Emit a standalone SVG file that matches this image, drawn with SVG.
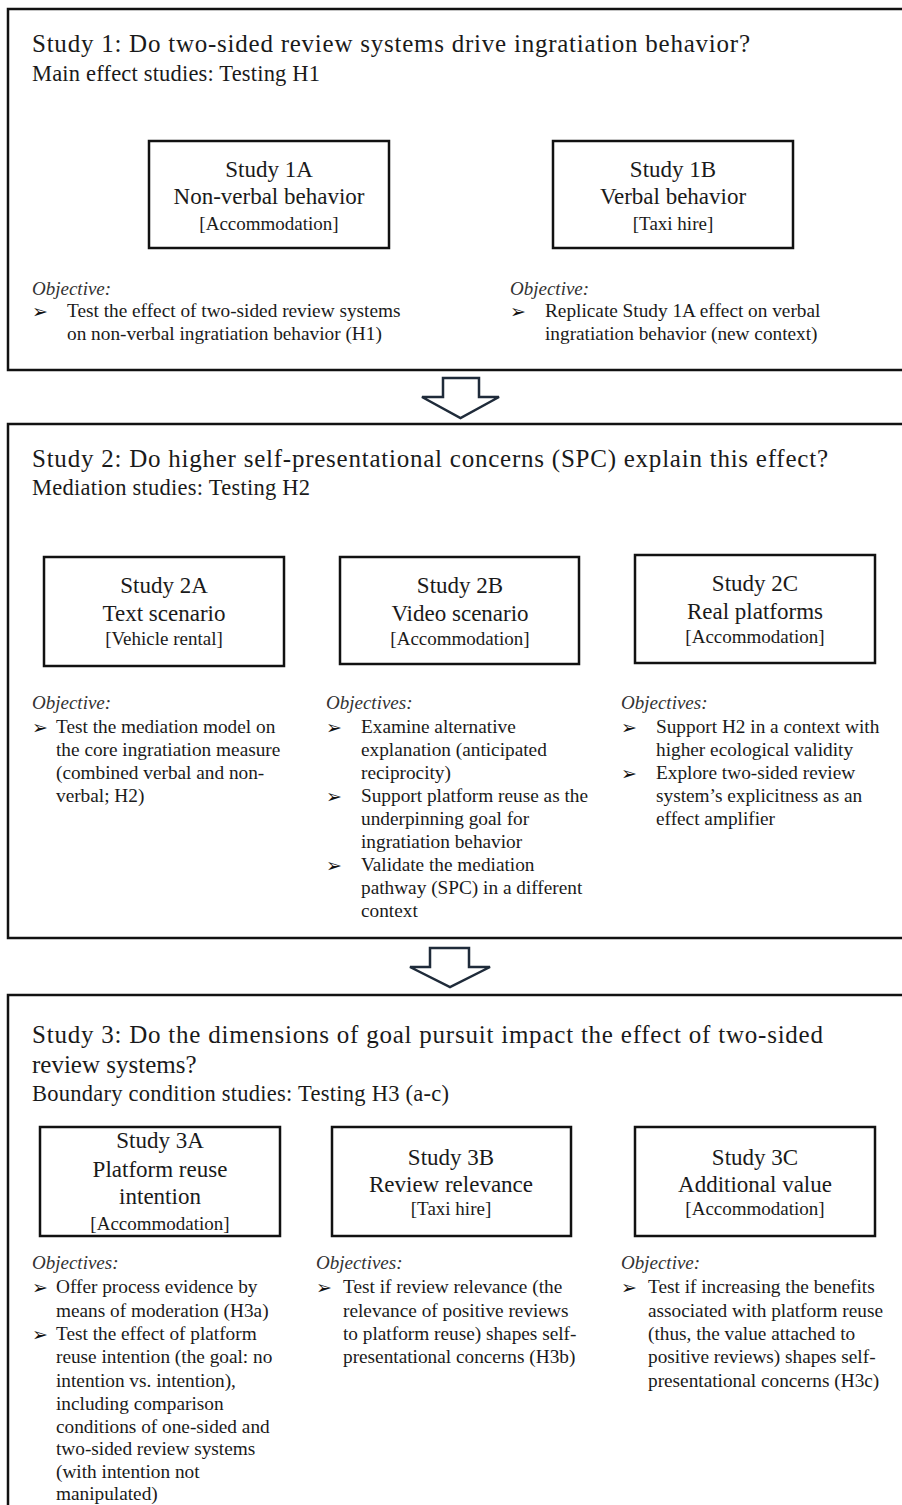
<svg xmlns="http://www.w3.org/2000/svg" width="902" height="1505" viewBox="0 0 902 1505">
<style>
text{font-family:"Liberation Serif","Times New Roman",serif;fill:#1a1a1a}
.frame{fill:none;stroke:#111;stroke-width:2.5}
.box{fill:#fff;stroke:#111;stroke-width:2.5}
.title{font-size:25px}
.sub{font-size:22.5px}
.bt{font-size:23px;text-anchor:middle}
.bs{font-size:19px;text-anchor:middle}
.obj{font-size:19px;font-style:italic;fill:#333}
.t{font-size:19.3px}
.bul{font-family:"DejaVu Sans",sans-serif;font-size:19px;fill:#111}
.arrow{fill:#fff;stroke:#1f2b3a;stroke-width:2.5;stroke-linejoin:miter}
</style>
<rect width="902" height="1505" fill="#fff"/>

<g id="study1">
<rect class="frame" x="8" y="9" width="900" height="361"/>
<text class="title" x="32" y="52" textLength="718" lengthAdjust="spacing">Study 1: Do two-sided review systems drive ingratiation behavior?</text>
<text class="sub" x="32" y="81" textLength="288" lengthAdjust="spacing">Main effect studies: Testing H1</text>
</g>
<g id="study1A">
<rect class="box" x="149" y="141" width="240" height="107"/>
<text class="bt" x="269" y="177">Study 1A</text>
<text class="bt" x="269" y="204">Non-verbal behavior</text>
<text class="bs" x="269" y="230">[Accommodation]</text>
</g>
<g id="study1B">
<rect class="box" x="553" y="141" width="240" height="107"/>
<text class="bt" x="673" y="177">Study 1B</text>
<text class="bt" x="673" y="204">Verbal behavior</text>
<text class="bs" x="673" y="230">[Taxi hire]</text>
</g>
<g id="obj1A">
<text class="obj" x="32" y="295">Objective:</text>
<text class="bul" x="32" y="318">➢</text>
<text class="t" x="67" y="317">Test the effect of two-sided review systems</text>
<text class="t" x="67" y="340">on non-verbal ingratiation behavior (H1)</text>
</g>
<g id="obj1B">
<text class="obj" x="510" y="295">Objective:</text>
<text class="bul" x="510" y="318">➢</text>
<text class="t" x="545" y="317">Replicate Study 1A effect on verbal</text>
<text class="t" x="545" y="340">ingratiation behavior (new context)</text>
</g>

<g id="study2">
<rect class="frame" x="8" y="424" width="900" height="514"/>
<text class="title" x="32" y="467" textLength="796" lengthAdjust="spacing">Study 2: Do higher self-presentational concerns (SPC) explain this effect?</text>
<text class="sub" x="32" y="495" textLength="278" lengthAdjust="spacing">Mediation studies: Testing H2</text>
</g>
<g id="study2A">
<rect class="box" x="44" y="557" width="240" height="109"/>
<text class="bt" x="164" y="593">Study 2A</text>
<text class="bt" x="164" y="621">Text scenario</text>
<text class="bs" x="164" y="645">[Vehicle rental]</text>
</g>
<g id="study2B">
<rect class="box" x="340" y="557" width="239" height="107"/>
<text class="bt" x="460" y="593">Study 2B</text>
<text class="bt" x="460" y="621">Video scenario</text>
<text class="bs" x="460" y="645">[Accommodation]</text>
</g>
<g id="study2C">
<rect class="box" x="635" y="555" width="240" height="108"/>
<text class="bt" x="755" y="591">Study 2C</text>
<text class="bt" x="755" y="619">Real platforms</text>
<text class="bs" x="755" y="643">[Accommodation]</text>
</g>
<g id="obj2A">
<text class="obj" x="32" y="709">Objective:</text>
<text class="bul" x="32" y="734">➢</text>
<text class="t" x="56" y="733">Test the mediation model on</text>
<text class="t" x="56" y="756">the core ingratiation measure</text>
<text class="t" x="56" y="779">(combined verbal and non-</text>
<text class="t" x="56" y="802">verbal; H2)</text>
</g>
<g id="obj2B">
<text class="obj" x="326" y="709">Objectives:</text>
<text class="bul" x="326" y="734">➢</text>
<text class="t" x="361" y="733">Examine alternative</text>
<text class="t" x="361" y="756">explanation (anticipated</text>
<text class="t" x="361" y="779">reciprocity)</text>
<text class="bul" x="326" y="803">➢</text>
<text class="t" x="361" y="802">Support platform reuse as the</text>
<text class="t" x="361" y="825">underpinning goal for</text>
<text class="t" x="361" y="848">ingratiation behavior</text>
<text class="bul" x="326" y="872">➢</text>
<text class="t" x="361" y="871">Validate the mediation</text>
<text class="t" x="361" y="894">pathway (SPC) in a different</text>
<text class="t" x="361" y="917">context</text>
</g>
<g id="obj2C">
<text class="obj" x="621" y="709">Objectives:</text>
<text class="bul" x="621" y="734">➢</text>
<text class="t" x="656" y="733">Support H2 in a context with</text>
<text class="t" x="656" y="756">higher ecological validity</text>
<text class="bul" x="621" y="780">➢</text>
<text class="t" x="656" y="779">Explore two-sided review</text>
<text class="t" x="656" y="802">system’s explicitness as an</text>
<text class="t" x="656" y="825">effect amplifier</text>
</g>

<g id="study3">
<rect class="frame" x="8" y="995" width="900" height="530"/>
<text class="title" x="32" y="1043" textLength="791" lengthAdjust="spacing">Study 3: Do the dimensions of goal pursuit impact the effect of two-sided</text>
<text class="title" x="32" y="1073">review systems?</text>
<text class="sub" x="32" y="1101" textLength="417" lengthAdjust="spacing">Boundary condition studies: Testing H3 (a-c)</text>
</g>
<g id="study3A">
<rect class="box" x="40" y="1127" width="240" height="109"/>
<text class="bt" x="160" y="1148">Study 3A</text>
<text class="bt" x="160" y="1177">Platform reuse</text>
<text class="bt" x="160" y="1204">intention</text>
<text class="bs" x="160" y="1230">[Accommodation]</text>
</g>
<g id="study3B">
<rect class="box" x="332" y="1127" width="239" height="109"/>
<text class="bt" x="451" y="1165">Study 3B</text>
<text class="bt" x="451" y="1192">Review relevance</text>
<text class="bs" x="451" y="1215">[Taxi hire]</text>
</g>
<g id="study3C">
<rect class="box" x="635" y="1127" width="240" height="109"/>
<text class="bt" x="755" y="1165">Study 3C</text>
<text class="bt" x="755" y="1192">Additional value</text>
<text class="bs" x="755" y="1215">[Accommodation]</text>
</g>
<g id="obj3A">
<text class="obj" x="32" y="1269">Objectives:</text>
<text class="bul" x="32" y="1294">➢</text>
<text class="t" x="56" y="1293">Offer process evidence by</text>
<text class="t" x="56" y="1317">means of moderation (H3a)</text>
<text class="bul" x="32" y="1341">➢</text>
<text class="t" x="56" y="1340">Test the effect of platform</text>
<text class="t" x="56" y="1363">reuse intention (the goal: no</text>
<text class="t" x="56" y="1387">intention vs. intention),</text>
<text class="t" x="56" y="1410">including comparison</text>
<text class="t" x="56" y="1433">conditions of one-sided and</text>
<text class="t" x="56" y="1455">two-sided review systems</text>
<text class="t" x="56" y="1478">(with intention not</text>
<text class="t" x="56" y="1500">manipulated)</text>
</g>
<g id="obj3B">
<text class="obj" x="316" y="1269">Objectives:</text>
<text class="bul" x="316" y="1294">➢</text>
<text class="t" x="343" y="1293">Test if review relevance (the</text>
<text class="t" x="343" y="1317">relevance  of positive reviews</text>
<text class="t" x="343" y="1340">to platform reuse) shapes self-</text>
<text class="t" x="343" y="1363">presentational concerns (H3b)</text>
</g>
<g id="obj3C">
<text class="obj" x="621" y="1269">Objective:</text>
<text class="bul" x="621" y="1294">➢</text>
<text class="t" x="648" y="1293">Test if increasing the benefits</text>
<text class="t" x="648" y="1317">associated with platform reuse</text>
<text class="t" x="648" y="1340">(thus, the value attached to</text>
<text class="t" x="648" y="1363">positive reviews) shapes self-</text>
<text class="t" x="648" y="1387">presentational concerns (H3c)</text>
</g>

<g id="connectors">
<polygon class="arrow" points="443,378 479,378 479,397 499,397 460.5,418 422,397 443,397"/>
<polygon class="arrow" points="430,948 469,948 469,967 490,967 450,987 410,967 430,967"/>
</g>
</svg>
